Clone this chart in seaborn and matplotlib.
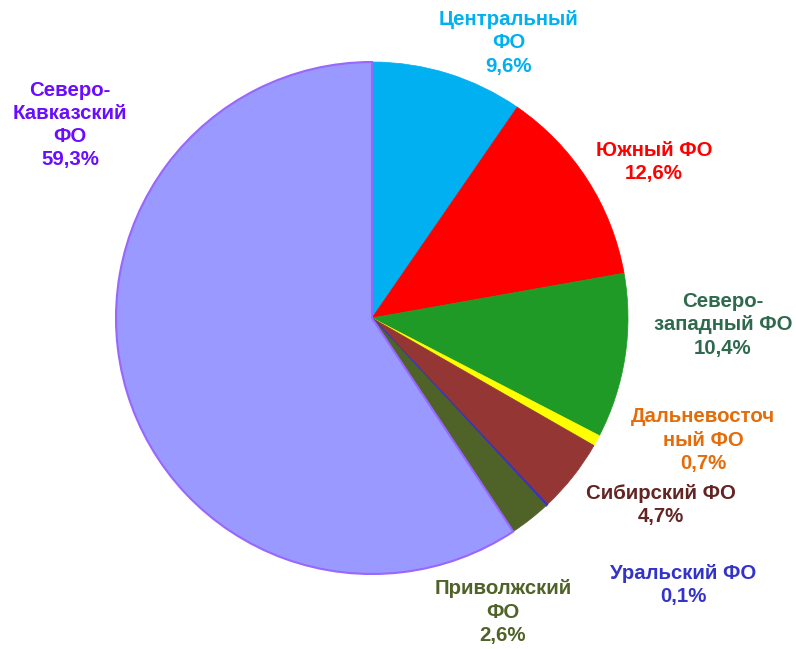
import matplotlib
matplotlib.use("Agg")
import matplotlib.pyplot as plt
import seaborn as sns

# Доли федеральных округов, %
districts = ["Центральный\nФО", "Южный ФО", "Северо-\nзападный ФО", "Дальневосточ\nный ФО",
             "Сибирский ФО", "Уральский ФО", "Приволжский\nФО", "Северо-\nКавказский\nФО"]
shares = [9.6, 12.6, 10.4, 0.7, 4.7, 0.1, 2.6, 59.3]
slice_colors = ["#00B0F0", "#FF0000", "#1F9A26", "#FFFF00", "#943634", "#3333CC", "#4F6228", "#9999FF"]
label_colors = ["#00B0F0", "#FF0000", "#2F6A4E", "#E46C0A", "#632523", "#3333CC", "#4F6228", "#6A0DFF"]
# позиции подписей (пиксели)
label_pos = [(509, 43), (654, 162), (723, 325), (703, 440), (661, 505), (683, 585), (503, 612), (70, 125)]

sns.set_theme(style="white")
plt.rcParams['font.family'] = ['Liberation Sans', 'DejaVu Sans']

W, H = 796, 649
fig = plt.figure(figsize=(W / 100, H / 100), dpi=100)
ax = fig.add_axes([0, 0, 1, 1])

wedges, _ = ax.pie(shares, colors=slice_colors, startangle=90, counterclock=False,
                   center=(372, H - 318), radius=256, frame=True)
for w, c in zip(wedges, slice_colors):
    w.set_edgecolor(c)
    w.set_linewidth(0.5)
wedges[-1].set_edgecolor("#9966FF")
wedges[-1].set_linewidth(1.5)
wedges[5].set_linewidth(1.2)

ax.set_xlim(0, W)
ax.set_ylim(0, H)
ax.set_aspect("equal")
ax.axis("off")

for name, val, col, (px, py) in zip(districts, shares, label_colors, label_pos):
    txt = f"{name}\n{val:.1f}%".replace(".", ",")
    ax.text(px, H - py, txt, ha="center", va="center", color=col,
            fontsize=14.7, fontweight="bold", linespacing=1.28)

fig.savefig("out.png", dpi=100)
